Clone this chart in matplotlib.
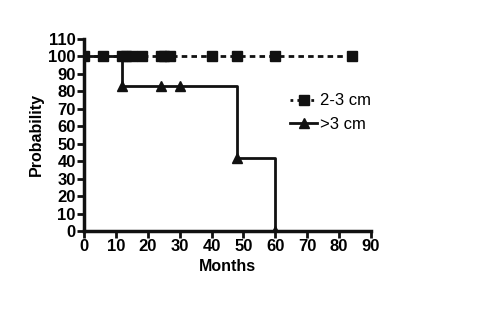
import matplotlib.pyplot as plt

plt.rcParams['font.family'] = ['Liberation Sans', 'DejaVu Sans']

# 2-3 cm: no events, censored marks at 100
small_censor = [0, 6, 12, 13, 15, 18, 24, 25, 27, 40, 48, 60, 84]
small_end = 84

# >3 cm: step survival curve
large_times = [0, 12, 48, 60]
large_surv = [100, 83.3, 41.7, 0]
large_mark_t = [12, 24, 30, 48, 60]
large_mark_s = [83.3, 83.3, 83.3, 41.7, 0]

fig = plt.figure(figsize=(5.04, 3.11), dpi=100)
ax = fig.add_axes([0.167, 0.257, 0.569, 0.618])

ax.plot([0, small_end], [100, 100], color='#111111', lw=2, ls=(0, (2, 1.5)),
        zorder=2)
ax.plot(small_censor, [100] * len(small_censor), ls='none', marker='s',
        ms=6.5, color='#111111', zorder=3)
ax.plot([], [], color='#111111', lw=2, ls=(0, (1, 1.5)), marker='s', ms=6.5,
        label='2-3 cm')

ax.step(large_times, large_surv, where='post', color='#111111', lw=2,
        zorder=2)
ax.plot(large_mark_t, large_mark_s, ls='none', marker='^', ms=6.5,
        color='#111111', zorder=3)
ax.plot([], [], color='#111111', lw=2, marker='^', ms=6.5, label='>3 cm')

ax.set_xlim(0, 90)
ax.set_ylim(0, 110)
ax.set_xticks(range(0, 91, 10))
ax.set_yticks(range(0, 111, 10))
for s in ['top', 'right']:
    ax.spines[s].set_visible(False)
for s in ['left', 'bottom']:
    ax.spines[s].set_linewidth(2.5)
    ax.spines[s].set_color('#111111')
ax.tick_params(direction='out', length=5, width=2, color='#111111',
               labelsize=12, pad=1)
for lab in ax.get_xticklabels() + ax.get_yticklabels():
    lab.set_fontweight('bold')

ax.set_xlabel('Months', fontsize=11.5, fontweight='bold', labelpad=3)
ax.set_ylabel('Probability', fontsize=11.5, fontweight='bold', labelpad=3)

ax.legend(loc='upper left', bbox_to_anchor=(0.69, 0.76), frameon=False,
          fontsize=12, handlelength=1.6, handletextpad=0.2,
          labelspacing=0.5, borderpad=0)

fig.savefig('out.png', dpi=100)
